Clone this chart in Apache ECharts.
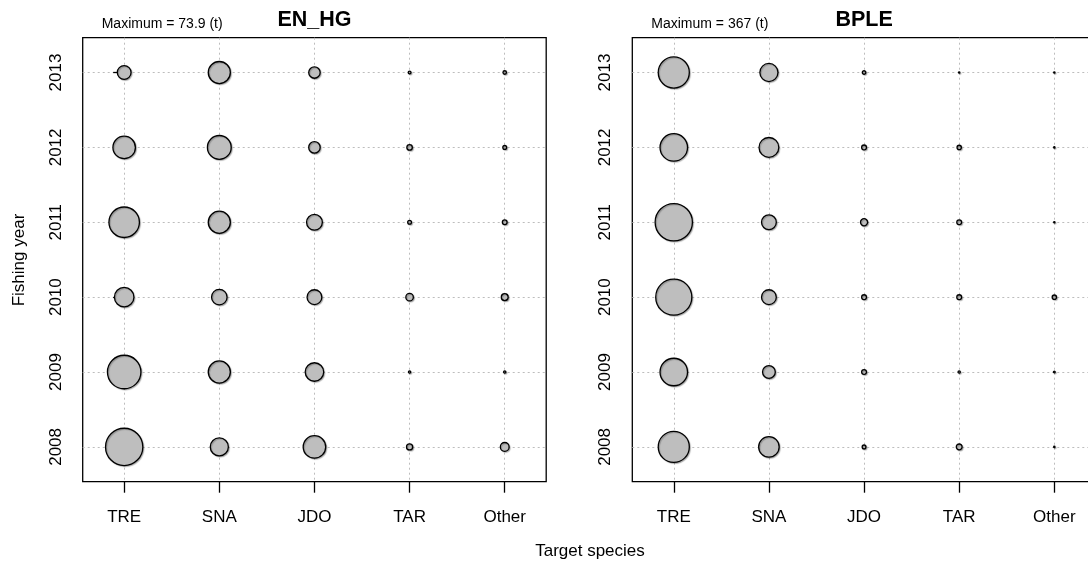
<!DOCTYPE html>
<html>
<head>
<meta charset="utf-8">
<script src="https://cdn.jsdelivr.net/npm/echarts@6/dist/echarts.min.js"></script>
<style>
  html, body { margin: 0; padding: 0; background: #ffffff; }
  #chart { width: 1088px; height: 563px; }
</style>
</head>
<body>
<div id="chart"></div>
<script>
// Target species (x) and fishing years (y)
const categories = ['TRE', 'SNA', 'JDO', 'TAR', 'Other'];
const years = [2008, 2009, 2010, 2011, 2012, 2013];

// EN_HG catch (t), one value per fishing year 2008..2013
const enhgTRE   = [73.9, 59.6, 20.2, 49.4, 26.9, 10.1];
const enhgSNA   = [17.4, 25.9, 12.8, 25.9, 30.1, 25.9];
const enhgJDO   = [26.9, 18.2, 11.6, 13.3, 7.0, 7.0];
const enhgTAR   = [2.0, 0.28, 3.0, 0.77, 1.6, 0.42];
const enhgOther = [4.1, 0.28, 2.5, 1.2, 0.77, 0.65];

// BPLE catch (t), one value per fishing year 2008..2013
const bpleTRE   = [255, 199.5, 343.8, 367, 199.5, 255];
const bpleSNA   = [110.9, 43.2, 57.8, 57.8, 103.4, 86.4];
const bpleJDO   = [3.8, 6.1, 6.1, 13.3, 6.1, 3.2];
const bpleTAR   = [8.9, 1.4, 6.1, 6.1, 4.9, 0.45];
const bpleOther = [0.45, 0.8, 4.9, 0.45, 0.45, 0.45];

const panels = [
  { name: 'EN_HG', series: [enhgTRE, enhgSNA, enhgJDO, enhgTAR, enhgOther], left: 82.7 },
  { name: 'BPLE',  series: [bpleTRE, bpleSNA, bpleJDO, bpleTAR, bpleOther], left: 632.3 }
];

const FONT = '"Liberation Sans", Arial, Helvetica, sans-serif';
const PLOT_TOP = 37.7, PLOT_H = 444, PLOT_W = 463.5;
const MAX_DIAM = 37.3;   // symbol diameter for the panel maximum
const xIdx = categories.map((c, i) => i);

const grids = [], xAxes = [], yAxes = [], series = [], graphics = [];

panels.forEach((p, k) => {
  const maxVal = Math.max(...p.series.map(s => Math.max(...s)));
  grids.push({
    left: p.left, top: PLOT_TOP, width: PLOT_W, height: PLOT_H,
    show: true, borderColor: '#000', borderWidth: 1.3, backgroundColor: 'transparent',
    containLabel: false, outerBoundsMode: 'none'
  });
  xAxes.push({
    type: 'value', gridIndex: k, min: -0.436, max: 4.436,
    axisLine: { show: false },
    axisTick: { show: true, inside: false, length: 11, customValues: xIdx,
                lineStyle: { color: '#000', width: 1.3 } },
    axisLabel: { show: true, customValues: xIdx, margin: 27, fontSize: 17, fontFamily: FONT, color: '#000',
                 formatter: v => categories[Math.round(v)] },
    splitLine: { show: true, lineStyle: { color: '#bdbdbd', width: 1, type: [2, 3] } }
  });
  yAxes.push({
    type: 'value', gridIndex: k, min: 2007.535, max: 2013.465,
    axisLine: { show: false },
    axisTick: { show: true, inside: false, length: 11, customValues: years,
                lineStyle: { color: '#000', width: 1.3 } },
    axisLabel: { show: true, customValues: years, margin: 18, rotate: 90, fontSize: 17, fontFamily: FONT,
                 color: '#000', formatter: v => String(Math.round(v)) },
    splitLine: { show: true, lineStyle: { color: '#bdbdbd', width: 1, type: [2, 3] } }
  });
  const data = [];
  p.series.forEach((vals, ci) => {
    vals.forEach((v, yi) => data.push([ci, years[yi], v]));
  });
  series.push({
    type: 'scatter', xAxisIndex: k, yAxisIndex: k, data: data,
    symbol: 'circle',
    symbolSize: d => MAX_DIAM * Math.sqrt(d[2] / maxVal),
    itemStyle: { color: '#bebebe', borderColor: '#000', borderWidth: 1.3, opacity: 1,
                 shadowColor: 'rgba(0,0,0,0.25)', shadowBlur: 1, shadowOffsetX: 1, shadowOffsetY: 1 },
    emphasis: { disabled: true },
    silent: true, animation: false
  });
  // panel heading and maximum note
  graphics.push({
    type: 'text', x: p.left + PLOT_W / 2, y: 20,
    style: { text: p.name, font: 'bold 21.5px ' + FONT, fill: '#000',
             align: 'center', verticalAlign: 'middle', textAlign: 'center', textVerticalAlign: 'middle' }
  });
  graphics.push({
    type: 'text', x: p.left + 19, y: 24,
    style: { text: 'Maximum = ' + maxVal + ' (t)', font: '14px ' + FONT, fill: '#000',
             align: 'left', verticalAlign: 'middle', textAlign: 'left', textVerticalAlign: 'middle' }
  });
});

// shared axis titles
graphics.push({
  type: 'text', x: 19, y: 260, rotation: Math.PI / 2,
  style: { text: 'Fishing year', font: '17px ' + FONT, fill: '#000',
           align: 'center', verticalAlign: 'middle', textAlign: 'center', textVerticalAlign: 'middle' }
});
graphics.push({
  type: 'text', x: 590, y: 551,
  style: { text: 'Target species', font: '17px ' + FONT, fill: '#000',
           align: 'center', verticalAlign: 'middle', textAlign: 'center', textVerticalAlign: 'middle' }
});

const chart = echarts.init(document.getElementById('chart'), null, { renderer: 'canvas' });
chart.setOption({
  animation: false,
  backgroundColor: '#ffffff',
  grid: grids,
  xAxis: xAxes,
  yAxis: yAxes,
  series: series,
  graphic: graphics
});
</script>
</body>
</html>
